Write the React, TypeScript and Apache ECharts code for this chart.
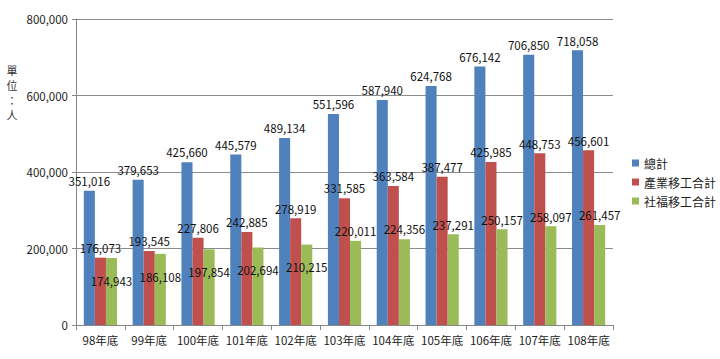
import React, { useEffect, useRef } from "react";
import * as echarts from "echarts";

const categories = ["98年底", "99年底", "100年底", "101年底", "102年底", "103年底", "104年底", "105年底", "106年底", "107年底", "108年底"];
const totalValues = [351016, 379653, 425660, 445579, 489134, 551596, 587940, 624768, 676142, 706850, 718058];
const industryValues = [176073, 193545, 227806, 242885, 278919, 331585, 363584, 387477, 425985, 448753, 456601];
const welfareValues = [174943, 186108, 197854, 202694, 210215, 220011, 224356, 237291, 250157, 258097, 261457];
const seriesNames = ["總計", "產業移工合計", "社福移工合計"];
const unitChars = ["單", "位", "：", "人"];
const yTicks = { min: 0, max: 800000, interval: 200000 };

const FONT = "'Noto Sans CJK TC', 'Noto Sans', sans-serif";
const fmt = (v: number) => v.toLocaleString("en-US");

export default function App() {
  const ref = useRef<HTMLDivElement>(null);
  useEffect(() => {
    if (!ref.current) return;
    document.body.style.margin = "0";
    const chart = echarts.init(ref.current, null, { renderer: "svg" });
    const labelBase = {
      show: true,
      position: "top" as const,
      distance: 4,
      color: "#111",
      fontSize: 11.5,
      fontFamily: FONT,
      formatter: (p: any) => fmt(p.value as number),
    };
    chart.setOption({
      animation: false,
      backgroundColor: "#fff",
      textStyle: { fontFamily: FONT },
      grid: { left: 76, right: 107, top: 19, bottom: 34, containLabel: false },
      legend: {
        orient: "vertical",
        left: 627,
        top: 152,
        itemWidth: 7,
        itemHeight: 7,
        itemGap: 7,
        icon: "rect",
        textStyle: { fontSize: 12, color: "#222", fontFamily: FONT },
        data: seriesNames,
      },
      graphic: unitChars.map((ch, i) => ({
        type: "text",
        x: 12,
        y: 63 + i * 15,
        style: {
          text: ch,
          fontSize: 11,
          lineHeight: 13,
          fill: "#333",
          fontFamily: FONT,
          align: "center",
          verticalAlign: "top",
        },
      })),
      xAxis: {
        type: "category",
        data: categories,
        axisLine: { lineStyle: { color: "#868686", width: 1 } },
        axisTick: { show: true, length: 5, lineStyle: { color: "#868686" } },
        axisLabel: { color: "#222", fontSize: 11.5, fontFamily: FONT, margin: 9, interval: 0 },
      },
      yAxis: {
        type: "value",
        min: yTicks.min,
        max: yTicks.max,
        interval: yTicks.interval,
        axisLine: { show: true, lineStyle: { color: "#868686", width: 1 } },
        axisTick: { show: true, length: 4, lineStyle: { color: "#868686" } },
        splitLine: { show: true, lineStyle: { color: "#8c8c8c", width: 1 } },
        axisLabel: {
          color: "#222",
          fontSize: 11.5,
          fontFamily: FONT,
          margin: 8,
          formatter: (v: number) => fmt(v),
        },
      },
      series: [
        {
          name: seriesNames[0],
          type: "bar",
          data: totalValues,
          barGap: "0%",
          barCategoryGap: "32%",
          itemStyle: { color: "#4F81BD" },
          label: labelBase,
        },
        {
          name: seriesNames[1],
          type: "bar",
          data: industryValues,
          itemStyle: { color: "#C0504D" },
          label: labelBase,
        },
        {
          name: seriesNames[2],
          type: "bar",
          data: welfareValues.map((v, i) =>
            i < 5
              ? { value: v, label: { position: "insideTop", distance: 17 } }
              : v
          ),
          itemStyle: { color: "#9BBB59" },
          label: labelBase,
        },
      ],
    });
    return () => chart.dispose();
  }, []);
  return <div ref={ref} style={{ width: 720, height: 359 }} />;
}
